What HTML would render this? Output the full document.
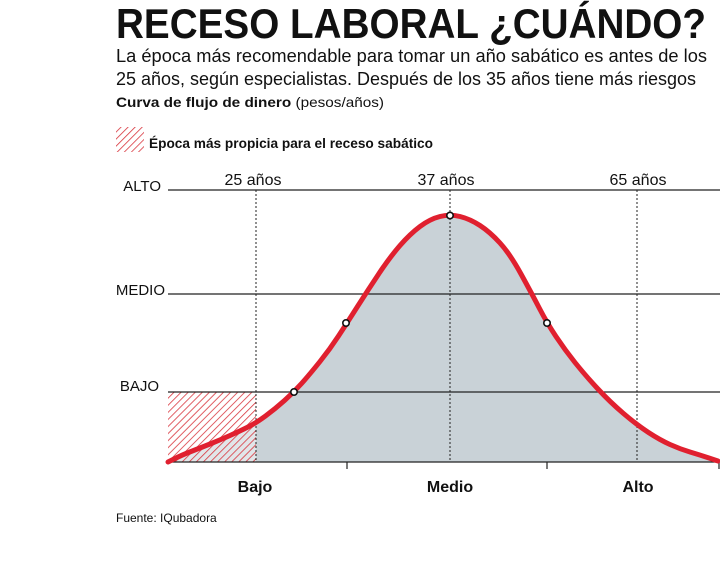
<!DOCTYPE html>
<html><head><meta charset="utf-8"><style>
body{margin:0;width:720px;height:565px;background:#fff;overflow:hidden;font-family:"Liberation Sans",sans-serif;}
</style></head><body>
<svg width="720" height="565" viewBox="0 0 720 565" xmlns="http://www.w3.org/2000/svg" font-family="Liberation Sans, sans-serif">
<defs>
<pattern id="h" width="5" height="5" patternUnits="userSpaceOnUse" patternTransform="rotate(45)">
<line x1="0" y1="0" x2="0" y2="5" stroke="#d9363e" stroke-width="1.6"/>
</pattern>
</defs>
<text x="116" y="38" font-size="42" font-weight="bold" fill="#111" textLength="590" lengthAdjust="spacingAndGlyphs">RECESO LABORAL ¿CUÁNDO?</text>
<text x="116" y="62" font-size="18" fill="#111" textLength="591" lengthAdjust="spacingAndGlyphs">La época más recomendable para tomar un año sabático es antes de los</text>
<text x="116" y="85" font-size="18" fill="#111" textLength="580" lengthAdjust="spacingAndGlyphs">25 años, según especialistas. Después de los 35 años tiene más riesgos</text>
<text x="116" y="107" font-size="14" fill="#111" textLength="268" lengthAdjust="spacingAndGlyphs"><tspan font-weight="bold">Curva de flujo de dinero</tspan> (pesos/años)</text>
<rect x="116" y="127" width="28" height="25" fill="url(#h)"/>
<text x="149" y="148" font-size="14" font-weight="bold" fill="#111" textLength="284" lengthAdjust="spacingAndGlyphs">Época más propicia para el receso sabático</text>

<path fill="#c9d2d7" d="M168,462 L175,458.5 Q182,455 191,451.5 Q200,448 210,444 Q220,440 230,435.5 Q240,431 248,427 Q256,423 265.5,416 Q275,409 284.5,400.5 Q294,392 302,383 Q310,374 320,361.5 Q330,349 338.5,336 Q347,323 357.5,306.5 Q368,290 379,273.5 Q390,257 400,245.5 Q410,234 420,226.5 Q430,219 440,216.5 Q450,214 460,216.5 Q470,219 480,225.5 Q490,232 500,243 Q510,254 521,274 Q532,294 539.5,308.5 Q547,323 556,336.5 Q565,350 575,362.5 Q585,375 597.5,388.5 Q610,402 623.5,413.5 Q637,425 648.5,432.5 Q660,440 670,444.5 Q680,449 690,452 Q700,455 709,458 L718,461 L718,462 Z"/>
<rect x="168" y="392" width="88" height="70" fill="#fff" opacity="0.45"/>
<rect x="168" y="392" width="88" height="70" fill="url(#h)"/>
<g stroke="#222" stroke-width="1.2">
<line x1="168" y1="190" x2="720" y2="190"/>
<line x1="168" y1="294" x2="720" y2="294"/>
<line x1="168" y1="392" x2="720" y2="392"/>
<line x1="168" y1="462" x2="720" y2="462"/>
<line x1="347" y1="462" x2="347" y2="469"/>
<line x1="547" y1="462" x2="547" y2="469"/>
<line x1="719" y1="462" x2="719" y2="469"/>
</g>
<g stroke="#222" stroke-width="1" stroke-dasharray="2,2">
<line x1="256" y1="190" x2="256" y2="462"/>
<line x1="450" y1="190" x2="450" y2="462"/>
<line x1="637" y1="190" x2="637" y2="462"/>
</g>
<path fill="none" stroke="#e0202f" stroke-width="5" stroke-linejoin="round" stroke-linecap="round" d="M168,462 L175,458.5 Q182,455 191,451.5 Q200,448 210,444 Q220,440 230,435.5 Q240,431 248,427 Q256,423 265.5,416 Q275,409 284.5,400.5 Q294,392 302,383 Q310,374 320,361.5 Q330,349 338.5,336 Q347,323 357.5,306.5 Q368,290 379,273.5 Q390,257 400,245.5 Q410,234 420,226.5 Q430,219 440,216.5 Q450,214 460,216.5 Q470,219 480,225.5 Q490,232 500,243 Q510,254 521,274 Q532,294 539.5,308.5 Q547,323 556,336.5 Q565,350 575,362.5 Q585,375 597.5,388.5 Q610,402 623.5,413.5 Q637,425 648.5,432.5 Q660,440 670,444.5 Q680,449 690,452 Q700,455 709,458 L718,461"/>
<g fill="#fff" stroke="#111" stroke-width="1.6">
<circle cx="450" cy="215.5" r="3.2"/><circle cx="346" cy="323" r="3.2"/><circle cx="547" cy="323" r="3.2"/><circle cx="294" cy="392" r="3.2"/>
</g>
<g font-size="15" fill="#111">
<text x="161" y="191" text-anchor="end">ALTO</text>
<text x="165" y="295" text-anchor="end">MEDIO</text>
<text x="159" y="391" text-anchor="end">BAJO</text>
</g>
<g font-size="16" fill="#111" text-anchor="middle">
<text x="253" y="185">25 años</text>
<text x="446" y="185">37 años</text>
<text x="638" y="185">65 años</text>
<text x="255" y="492" font-weight="bold">Bajo</text>
<text x="450" y="492" font-weight="bold">Medio</text>
<text x="638" y="492" font-weight="bold">Alto</text>
</g>
<text x="116" y="522" font-size="12" fill="#111">Fuente: IQubadora</text>
</svg>
</body></html>
